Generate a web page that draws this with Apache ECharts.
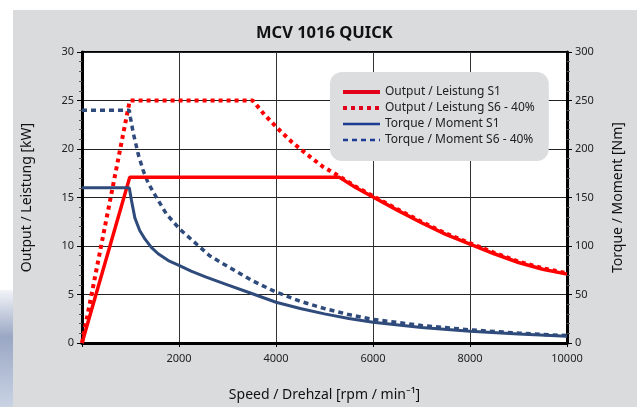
<!DOCTYPE html>
<html>
<head>
<meta charset="utf-8">
<script src="https://cdn.jsdelivr.net/npm/echarts@6/dist/echarts.min.js"></script>
<style>
  html, body { margin: 0; padding: 0; background: #fff; }
  #main { width: 637px; height: 407px; }
</style>
</head>
<body>
<div id="main"></div>
<script>
// speeds in rpm, output in kW, torque in Nm
var outS1Speed = [0, 985, 5300, 5650, 6000, 6500, 7000, 7500, 8000, 8500, 9000, 9500, 10000];
var outS1 = [0, 17.1, 17.1, 16.0, 15.05, 13.7, 12.4, 11.2, 10.2, 9.2, 8.3, 7.6, 7.1];

var outS6Speed = [0, 985, 3520, 3760, 4040, 4330, 4650, 4960, 5300, 5650, 6000, 6500, 7000, 7500, 8000, 8500, 9000, 9500, 10000];
var outS6 = [0, 25, 25, 23.55, 22.1, 20.7, 19.4, 18.2, 17.2, 16.1, 15.15, 13.8, 12.5, 11.3, 10.3, 9.3, 8.4, 7.7, 7.2];

var torqueS1Speed = [0, 975, 990, 1020, 1090, 1190, 1300, 1430, 1570, 1780, 2000, 2250, 2560, 3000, 3500, 4000, 4500, 5000, 5500, 6000, 7000, 8000, 9000, 10000];
var torqueS1 = [160, 160, 158, 147, 129, 116, 107, 98.5, 92, 85, 80, 74, 68, 60, 51, 42, 35.5, 30, 25.3, 21.3, 16, 12.2, 9.2, 6.9];

var torqueS6Speed = [0, 975, 1000, 1055, 1157, 1260, 1363, 1535, 1740, 2014, 2323, 2631, 3000, 3500, 4000, 4500, 5000, 5500, 6000, 7000, 8000, 9000, 10000];
var torqueS6 = [240, 240, 232, 217, 195, 178, 165, 150, 133, 117.5, 103.7, 90, 79, 64.5, 52.5, 43, 35.5, 29.3, 24.3, 18, 13.6, 10.2, 7.6];

var seriesNames = ['Output / Leistung S1', 'Output / Leistung S6 - 40%', 'Torque / Moment S1', 'Torque / Moment S6 - 40%'];

function pairs(xs, ys) {
  return xs.map(function (x, i) { return [x, ys[i]]; });
}

var red = '#ff0000';
var navy = '#2f4b7c';
var font = 'Noto Sans';

var myChart = echarts.init(document.getElementById('main'));

var option = {
  backgroundColor: '#fff',
  animation: false,
  textStyle: { fontFamily: font },
  graphic: [
    { type: 'rect', left: 13, top: 10, shape: { width: 624, height: 397 }, style: { fill: '#dadbdd' }, z: -10 },
    {
      type: 'rect', left: 0, top: 290, shape: { width: 13, height: 117 }, z: -10,
      style: {
        fill: new echarts.graphic.LinearGradient(0, 0, 0, 1, [
          { offset: 0, color: '#f2f4f8' },
          { offset: 0.4, color: '#9aa7c4' },
          { offset: 1, color: '#c9d3e4' }
        ])
      }
    }
  ],
  title: {
    text: 'MCV 1016 QUICK',
    left: 251,
    top: 20,
    textStyle: { fontFamily: font, fontSize: 16.5, fontWeight: 'bold', color: '#111' }
  },
  legend: {
    orient: 'vertical',
    left: 330,
    top: 72,
    padding: [14, 14, 15, 11],
    itemGap: 4,
    itemWidth: 37,
    itemHeight: 12,
    backgroundColor: '#dcdddf',
    borderRadius: 12,
    itemStyle: { color: 'rgba(0,0,0,0)', borderWidth: 0 },
    textStyle: { fontFamily: font, fontSize: 12, color: '#222' },
    data: [
      { name: seriesNames[0], lineStyle: { color: '#e2001a', width: 4 } },
      { name: seriesNames[1], lineStyle: { color: '#e2001a', width: 4 } },
      { name: seriesNames[2], lineStyle: { color: '#1d3c94', width: 2.5 } },
      { name: seriesNames[3], lineStyle: { color: '#1d3c94', width: 2.5 } }
    ]
  },
  grid: {
    left: 82,
    right: 70,
    top: 52,
    bottom: 64,
    show: true,
    backgroundColor: '#fff',
    borderColor: '#000',
    borderWidth: 2
  },
  xAxis: {
    type: 'value',
    min: 0,
    max: 10000,
    interval: 2000,
    name: 'Speed / Drehzal [rpm / min\u207B\u00B9]',
    nameLocation: 'middle',
    nameGap: 45,
    nameTextStyle: { fontFamily: font, fontSize: 14, color: '#111' },
    axisLine: { lineStyle: { color: '#000', width: 3 } },
    axisTick: { show: true, length: 4, lineStyle: { color: '#000' } },
    axisLabel: {
      fontFamily: font, fontSize: 11, color: '#222', margin: 10,
      formatter: function (v) { return v === 0 ? '' : String(v); }
    },
    splitLine: { show: true, lineStyle: { color: '#333', width: 1 } }
  },
  yAxis: [
    {
      type: 'value',
      min: 0,
      max: 30,
      interval: 5,
      name: 'Output / Leistung [kW]',
      nameLocation: 'middle',
      nameRotate: 90,
      nameGap: 48,
      nameTextStyle: { fontFamily: font, fontSize: 14, color: '#111' },
      axisLine: { show: true, lineStyle: { color: '#000', width: 3 } },
      axisTick: { show: true, length: 5, lineStyle: { color: '#000' } },
      minorTick: { show: true, splitNumber: 5, length: 3, lineStyle: { color: '#555' } },
      axisLabel: { fontFamily: font, fontSize: 11, color: '#222', margin: 8 },
      splitLine: { show: true, lineStyle: { color: '#222', width: 1 } }
    },
    {
      type: 'value',
      min: 0,
      max: 300,
      interval: 50,
      position: 'right',
      name: 'Torque / Moment [Nm]',
      nameLocation: 'middle',
      nameRotate: 90,
      nameGap: 44,
      nameTextStyle: { fontFamily: font, fontSize: 14, color: '#111' },
      axisLine: { show: true, lineStyle: { color: '#000', width: 3 } },
      axisTick: { show: true, length: 5, lineStyle: { color: '#000' } },
      minorTick: { show: true, splitNumber: 5, length: 3, lineStyle: { color: '#555' } },
      axisLabel: { fontFamily: font, fontSize: 11, color: '#222', margin: 8 },
      splitLine: { show: false }
    }
  ],
  series: [
    {
      name: seriesNames[0],
      type: 'line',
      symbol: 'none',
      yAxisIndex: 0,
      z: 4,
      lineStyle: { color: red, width: 3.5 },
      itemStyle: { color: red },
      data: pairs(outS1Speed, outS1)
    },
    {
      name: seriesNames[1],
      type: 'line',
      symbol: 'none',
      yAxisIndex: 0,
      z: 3,
      lineStyle: { color: red, width: 4, type: [4, 4], cap: 'butt' },
      itemStyle: { color: red },
      data: pairs(outS6Speed, outS6)
    },
    {
      name: seriesNames[2],
      type: 'line',
      symbol: 'none',
      yAxisIndex: 1,
      z: 4,
      lineStyle: { color: navy, width: 3 },
      itemStyle: { color: navy },
      data: pairs(torqueS1Speed, torqueS1)
    },
    {
      name: seriesNames[3],
      type: 'line',
      symbol: 'none',
      yAxisIndex: 1,
      z: 3,
      lineStyle: { color: navy, width: 3.5, type: [5, 4], cap: 'butt' },
      itemStyle: { color: navy },
      data: pairs(torqueS6Speed, torqueS6)
    }
  ]
};

myChart.setOption(option);
</script>
</body>
</html>
